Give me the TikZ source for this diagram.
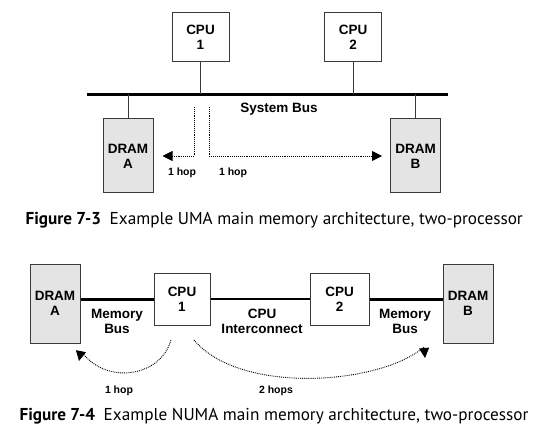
\documentclass[tikz,border=0pt]{standalone}
\usepackage{fontspec}
\setmainfont{Liberation Sans}
\newfontfamily\capfont{PT Sans}
\usepackage{tikz}
\usetikzlibrary{arrows.meta, positioning}
\usepackage{xcolor}
\definecolor{boxline}{HTML}{3A3A3A}
\definecolor{dramfill}{HTML}{E4E4E4}

\begin{document}
\begin{tikzpicture}[x=1pt, y=-1pt,
    box/.style={draw=boxline, line width=1pt, rectangle, fill=white, align=center, inner sep=0pt, font=\fontsize{13.5}{15}\selectfont\bfseries},
    cpubox/.style={box, minimum width=57pt, minimum height=49pt},
    drambox/.style={box, fill=dramfill, minimum width=50pt, minimum height=74pt},
    lbl/.style={align=center, font=\fontsize{13.5}{15}\selectfont\bfseries},
    hoplbl/.style={font=\fontsize{10.5}{12}\selectfont\bfseries},
    hop/.style={densely dotted, line width=0.9pt, -{Triangle[length=10pt, width=10pt]}},
    stub/.style={draw=boxline, line width=1pt},
    caption/.style={anchor=west, font=\capfont\fontsize{17.2}{19}\selectfont}]
\useasboundingbox (0,0) rectangle (545,430);

\node[cpubox] (cpu1) at (200.5,37.5) {CPU\\1};
\node[cpubox] (cpu2) at (353,37.5) {CPU\\2};
\node[drambox] (drama) at (128,156) {DRAM\\A};
\node[drambox] (dramb) at (415.5,156) {DRAM\\B};
\coordinate (busl) at (87,94.5);
\coordinate (busr) at (448,94.5);
\draw[line width=3.5pt] (busl) -- (busr);
\path [stub] (cpu1) -- (cpu1 |- busl);
\path [stub] (cpu2) -- (cpu2 |- busl);
\path [stub] (drama |- busl) -- (drama);
\path [stub] (dramb |- busl) -- (dramb);
\node[lbl] (sysbus) at (279,109) {System Bus};
\coordinate (hopa) at (194,107);
\coordinate (hopb) at (209,107);
\draw[hop] (hopa) |- ([xshift=9pt]drama.east);
\draw[hop] (hopb) |- ([xshift=-8pt]dramb.west);
\node[hoplbl] (hoplbla) at (182,173) {1 hop};
\node[hoplbl] (hoplblb) at (233,173) {1 hop};
\node[caption] (fig3) at (22,220) {\bfseries Figure 7-3\hspace{0.5em}\mdseries Example UMA main memory architecture, two-processor};

\node[drambox, minimum height=79pt] (ndrama) at (55,303.5) {DRAM\\A};
\node[drambox, minimum height=79pt] (ndramb) at (468,303.5) {DRAM\\B};
\node[cpubox, minimum width=56pt, minimum height=52pt] (ncpu1) at (182,299) {CPU\\1};
\node[cpubox, minimum width=59pt, minimum height=52pt] (ncpu2) at (339.5,299) {CPU\\2};
\draw[line width=3pt] (ndrama.east |- ncpu1.west) -- (ncpu1.west);
\draw[line width=2pt] (ncpu1.east) -- (ncpu2.west);
\draw[line width=3pt] (ncpu2.east) -- (ncpu2.east -| ndramb.west);
\node[lbl] (membusa) at (117,321) {Memory\\Bus};
\node[lbl] (interconn) at (262,321) {CPU\\Interconnect};
\node[lbl] (membusb) at (405,321) {Memory\\Bus};
\coordinate (nhopa) at (171,340);
\coordinate (nhopb) at (194,340);
\draw[hop] (nhopa) .. controls (160,378) and (105,385) .. (81,351) -- (79,361);
\draw[hop] (nhopb) .. controls (240,395) and (380,385) .. (424,347) -- (425,358);
\node[hoplbl] (nhoplbla) at (119,391) {1 hop};
\node[hoplbl] (nhoplblb) at (276,391) {2 hops};
\node[caption] (fig4) at (16,416) {\bfseries Figure 7-4\hspace{0.5em}\mdseries Example NUMA main memory architecture, two-processor};
\end{tikzpicture}
\end{document}
